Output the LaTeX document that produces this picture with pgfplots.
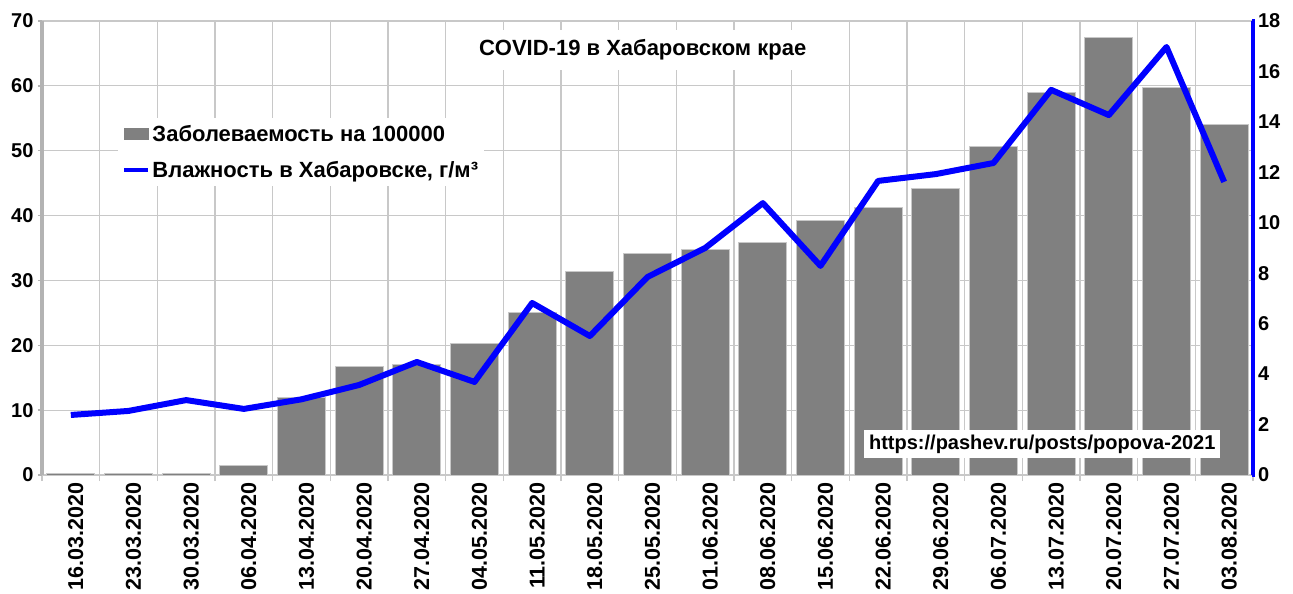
\documentclass[border=0pt]{standalone}
\usepackage{fontspec}
\setmainfont{Liberation Sans}
\usepackage{pgfplots}
\usepackage{pgfplotstable}
\pgfplotsset{compat=1.18}
\definecolor{barcol}{HTML}{808080}
\definecolor{gridcol}{HTML}{C8C8C8}
\definecolor{axcol}{HTML}{B3B3B3}
\pgfplotstableread{
x bar hum
0 0.3 2.38
1 0.2 2.54
2 0.3 2.97
3 1.4 2.62
4 11.9 3.00
5 16.8 3.57
6 17.0 4.48
7 20.3 3.69
8 25.0 6.82
9 31.3 5.51
10 34.1 7.85
11 34.7 9.00
12 35.9 10.78
13 39.2 8.29
14 41.2 11.66
15 44.2 11.93
16 50.7 12.37
17 59.0 15.27
18 67.4 14.27
19 59.7 16.97
20 54.0 11.62
}\data
\begin{document}
\begin{tikzpicture}
\pgfplotsset{
  common/.style={
    scale only axis, width=1211pt, height=454pt,
    xmin=-0.5, xmax=20.5, ymin=0,
    /pgf/number format/assume math mode=true,
    tick label style={font=\fontsize{20}{24}\selectfont\bfseries},
  }
}
\begin{axis}[common,
  ymax=70, ytick={0,10,...,70},
  xtick={0,...,20},
  xticklabels={16.03.2020,23.03.2020,30.03.2020,06.04.2020,13.04.2020,20.04.2020,27.04.2020,04.05.2020,11.05.2020,18.05.2020,25.05.2020,01.06.2020,08.06.2020,15.06.2020,22.06.2020,29.06.2020,06.07.2020,13.07.2020,20.07.2020,27.07.2020,03.08.2020},
  xticklabel style={rotate=90, anchor=east, yshift=-5pt, font=\fontsize{21.5}{25}\selectfont\bfseries},
  major x tick style={draw=none},
  minor xtick={-0.5,0.5,...,20.5},
  xminorgrids, ymajorgrids,
  grid style={draw=gridcol, line width=1.2pt},
  minor x tick style={draw=gridcol, line width=1.2pt},
  minor tick length=6pt,
  major tick length=4pt,
  tick align=outside,
  axis x line*=bottom, axis y line*=left,
  x axis line style={draw=gridcol, line width=1.2pt},
  y axis line style={draw=axcol, line width=4pt},
  ytick style={draw=axcol, line width=1.5pt},
  yticklabel style={xshift=-1pt},
]
\addplot[ybar, bar width=0.83, fill=barcol, draw=gridcol, line width=1pt] table[x=x, y=bar]{\data};
\end{axis}
\begin{axis}[common,
  ymax=18, ytick={0,2,...,18},
  axis y line*=right, axis x line=none,
  y axis line style={draw=blue, line width=4pt},
  ytick style={draw=blue, line width=4pt},
  major tick length=3pt,
  tick align=center,
  legend style={at={(0.063,0.786)}, anchor=north west, draw=none, fill=white,
     font=\fontsize{22}{26}\selectfont\bfseries, row sep=14pt, inner xsep=4pt, inner ysep=5pt},
  legend cell align=left,
]
\addlegendimage{legend image code/.code={\fill[barcol] (0pt,-5.5pt) rectangle (24pt,5.5pt);}}
\addlegendentry{Заболеваемость на 100000}
\addlegendimage{legend image code/.code={\draw[blue, line width=4pt] (0pt,0pt) -- (24pt,0pt);}}
\addlegendentry{Влажность в Хабаровске, г/м³}
\addplot[blue, line width=6pt, line join=round, forget plot] table[x=x, y=hum]{\data};
\node[font=\fontsize{22}{26}\selectfont\bfseries, fill=white, inner xsep=32pt, inner ysep=10pt] at (rel axis cs:0.496,0.936) {COVID-19 в Хабаровском крае};
\node[font=\fontsize{20}{24}\selectfont\bfseries, fill=white, inner sep=5pt] at (rel axis cs:0.826,0.068) {https://pashev.ru/posts/popova-2021};
\end{axis}
\pgfresetboundingbox
\useasboundingbox (-42pt,-119pt) rectangle (1251pt,475pt);
\end{tikzpicture}
\end{document}
